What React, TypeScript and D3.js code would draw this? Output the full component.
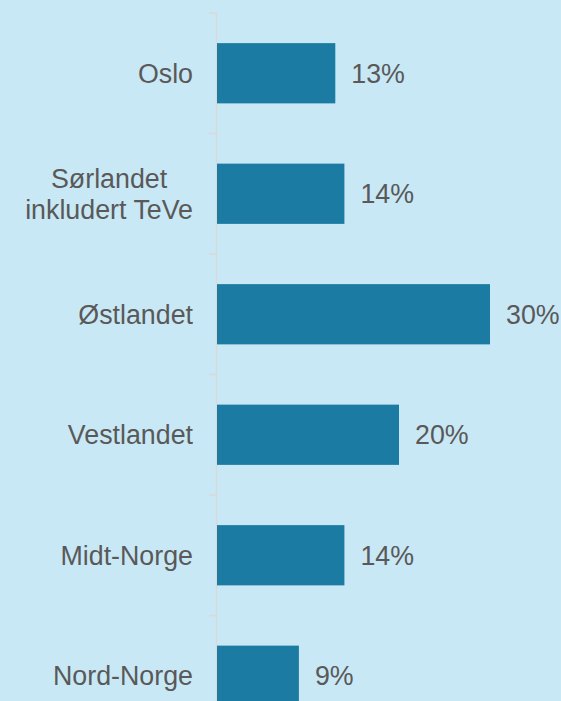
import React, { useEffect, useRef } from "react";
import * as d3 from "d3";

const categories: string[][] = [
  ["Oslo"],
  ["Sørlandet", "inkludert TeVe"],
  ["Østlandet"],
  ["Vestlandet"],
  ["Midt-Norge"],
  ["Nord-Norge"],
];
const values: number[] = [13, 14, 30, 20, 14, 9];
const valueLabels: string[] = ["13%", "14%", "30%", "20%", "14%", "9%"];

const W = 561;
const H = 701;

export default function App() {
  const ref = useRef<SVGSVGElement>(null);

  useEffect(() => {
    const svg = d3.select(ref.current);
    svg.selectAll("*").remove();

    const keys = categories.map((c) => c.join(" "));
    const y = d3.scaleBand<string>().domain(keys).range([13, 13 + 6 * 120.5]).paddingInner(0.5).paddingOuter(0.25);
    const x = d3.scaleLinear().domain([0, 30]).range([217, 490]);

    svg.append("rect").attr("width", W).attr("height", H).attr("fill", "#c9e8f5");

    // axis line and ticks
    const axisX = 216.5;
    const [r0, r1] = y.range();
    svg.append("line").attr("x1", axisX).attr("x2", axisX).attr("y1", r0).attr("y2", r1)
      .attr("stroke", "#d9d9d9").attr("stroke-width", 1.5);
    const bounds = d3.range(keys.length + 1).map((i) => r0 + i * y.step());
    svg.selectAll("line.tick").data(bounds).enter().append("line")
      .attr("class", "tick")
      .attr("x1", 209).attr("x2", axisX).attr("y1", (d) => d).attr("y2", (d) => d)
      .attr("stroke", "#d9d9d9").attr("stroke-width", 1.5);

    // bars
    svg.selectAll("rect.bar").data(values).enter().append("rect")
      .attr("class", "bar")
      .attr("x", x(0))
      .attr("y", (_, i) => y(keys[i])!)
      .attr("width", (d) => x(d) - x(0))
      .attr("height", y.bandwidth())
      .attr("fill", "#1b7ba3");

    const FS = 26.8;
    // value labels
    svg.selectAll("text.val").data(values).enter().append("text")
      .attr("class", "val")
      .attr("x", (d) => x(d) + 16)
      .attr("y", (_, i) => y(keys[i])! + y.bandwidth() / 2)
      .attr("dy", "0.35em")
      .attr("font-family", "'Liberation Sans', Arial, sans-serif")
      .attr("font-size", FS)
      .attr("fill", "#595959")
      .text((_, i) => valueLabels[i]);

    // category labels
    const right = 193;
    const lineH = 31;
    categories.forEach((lines, i) => {
      const cy = y(keys[i])! + y.bandwidth() / 2;
      const g = svg.append("g");
      const texts = lines.map((ln, j) =>
        g.append("text")
          .attr("y", cy + (j - (lines.length - 1) / 2) * lineH)
          .attr("dy", "0.35em")
          .attr("font-family", "'Liberation Sans', Arial, sans-serif")
          .attr("font-size", FS)
          .attr("fill", "#595959")
          .attr("text-anchor", "middle")
          .text(ln)
      );
      const widths = texts.map((t) => (t.node() as SVGTextElement).getComputedTextLength());
      const maxW = Math.max(...widths);
      texts.forEach((t) => t.attr("x", right - maxW / 2));
    });
  }, []);

  return (
    <svg
      ref={ref}
      width={W}
      height={H}
      style={{ position: "absolute", left: 0, top: 0, display: "block" }}
    />
  );
}
